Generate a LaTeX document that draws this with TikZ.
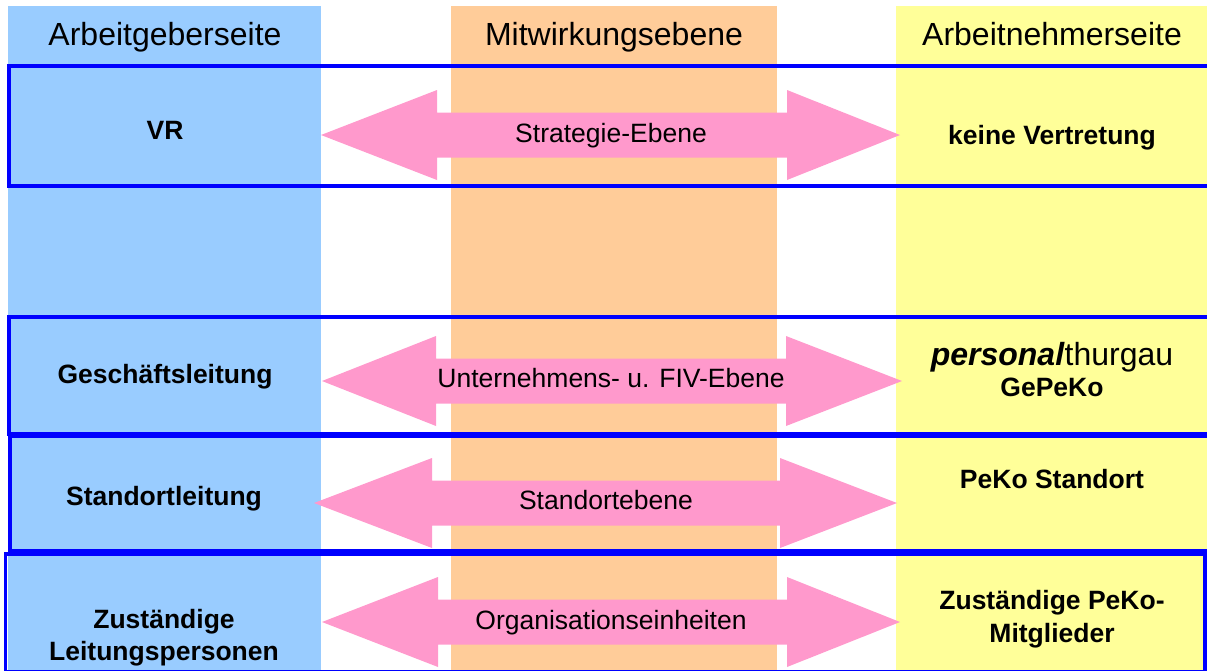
\documentclass[tikz,border=0pt]{standalone}
\usepackage{fontspec}
\setmainfont{Liberation Sans}
\definecolor{colblue}{HTML}{99CCFF}
\definecolor{colorange}{HTML}{FFCC99}
\definecolor{colyellow}{HTML}{FFFF99}
\definecolor{arrowpink}{HTML}{FF99CC}
\definecolor{lineblue}{HTML}{0000FF}
\newcommand\dblarr[5]{% lefttip, leftbase, rightbase, righttip, y
  \fill[arrowpink] (#1,#5) -- (#2,#5-45) -- (#2,#5-22.5) -- (#3,#5-22.5) -- (#3,#5-45)
    -- (#4,#5) -- (#3,#5+45) -- (#3,#5+22.5) -- (#2,#5+22.5) -- (#2,#5+45) -- cycle;}
\begin{document}
\begin{tikzpicture}[x=1pt,y=-1pt,
  frame/.style={draw=lineblue, line width=3.8pt},
  hdr/.style={font=\fontsize{32}{38}\selectfont, inner sep=0, anchor=base},
  lbl/.style={font=\bfseries\fontsize{26.5}{32}\selectfont, inner sep=0, anchor=base},
  alabel/.style={font=\fontsize{26.5}{32}\selectfont, inner sep=0, anchor=base}]
\useasboundingbox (0,0) rectangle (1207,670);
% columns
\fill[colblue] (8,6) rectangle (321,670);
\fill[colorange] (451,6) rectangle (777,670);
\fill[colyellow] (896,6) rectangle (1207,670);
% headers
\node[hdr] (h1) at (165,45) {Arbeitgeberseite};
\node[hdr] (h2) at (614,45) {Mitwirkungsebene};
\node[hdr] (h3) at (1052,45) {Arbeitnehmerseite};
% arrows
\dblarr{321}{437}{787}{900}{135}
\dblarr{322}{436}{786}{902}{381}
\dblarr{314}{432}{780}{897}{503}
\dblarr{322}{438}{787}{900}{622}
\node[alabel] (a1) at (611,142) {Strategie-Ebene};
\node[alabel] (a2) at (611,387) {Unternehmens- u. FIV-Ebene};
\node[alabel] (a3) at (606,509) {Standortebene};
\node[alabel] (a4) at (611,629) {Organisationseinheiten};
% frames
\draw[frame] (9,66) rectangle (1209,186);
\draw[frame] (9,317) rectangle (1209,434);
\draw[frame] (10,436) rectangle (1209.5,551);
\draw[frame] (5.5,554) rectangle (1205,672);
% left labels
\node[lbl] (l1) at (165,139) {VR};
\node[lbl] (l2) at (165,383) {Geschäftsleitung};
\node[lbl] (l3) at (164,505) {Standortleitung};
\node[lbl] (l4a) at (164,628) {Zuständige};
\node[lbl] (l4b) at (164,660) {Leitungspersonen};
% right labels
\node[lbl] (r1) at (1052,144) {keine Vertretung};
\node[inner sep=0, anchor=base, font=\fontsize{32}{38}\selectfont] (r2) at (1052,365) {\textbf{\textit{personal}}thurgau};
\node[lbl] (r2b) at (1052,396) {GePeKo};
\node[lbl] (r3) at (1052,488) {PeKo Standort};
\node[lbl] (r4a) at (1052,609) {Zuständige PeKo-};
\node[lbl] (r4b) at (1052,642) {Mitglieder};
\end{tikzpicture}
\end{document}
